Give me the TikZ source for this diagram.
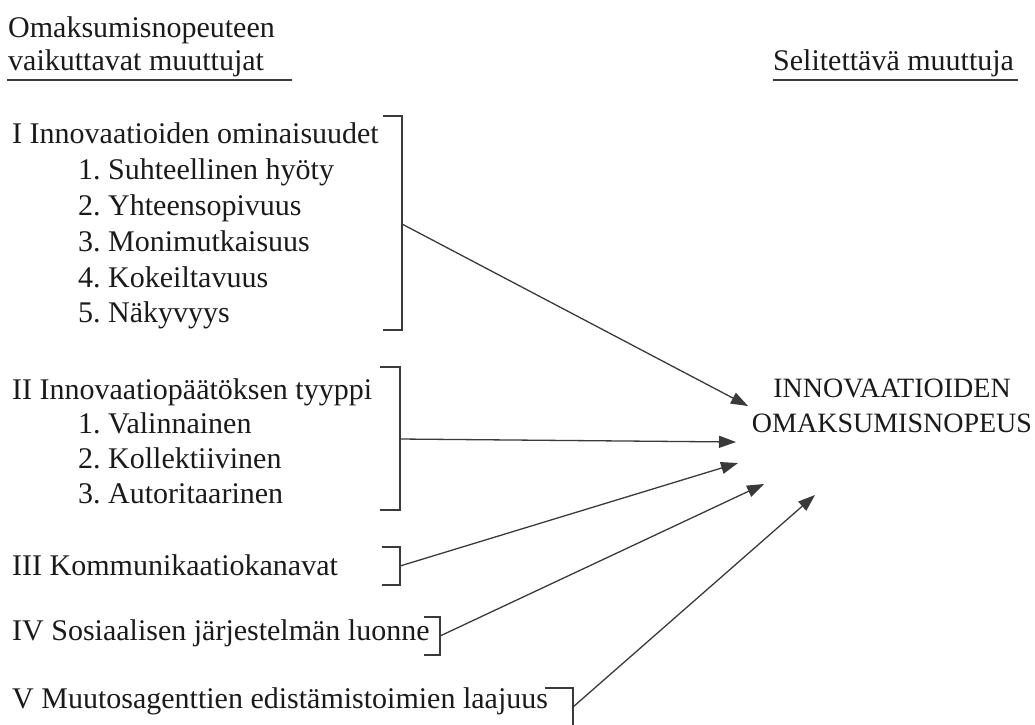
\documentclass[tikz,border=0pt]{standalone}
\usepackage{fontspec}
\setmainfont{Liberation Serif}
\usetikzlibrary{arrows.meta}
\definecolor{ink}{HTML}{1A1A1A}
\definecolor{linec}{HTML}{3A3A3A}
\frenchspacing
\begin{document}
\begin{tikzpicture}[x=1pt,y=-1pt,
  txt/.style={anchor=base west,inner sep=0pt,text=ink,font=\fontsize{30}{35}\selectfont},
  brk/.style={draw=linec,line width=1.4pt},
  arr/.style={draw=linec,line width=1.3pt,-{Triangle[length=17pt,width=12pt]}}]
\useasboundingbox (0,0) rectangle (1035,724);
% headings
\node[txt] (h1) at (8,37) {Omaksumisnopeuteen};
\node[txt] (h2) at (8,70) {vaikuttavat muuttujat};
\draw[linec,line width=1.1pt] (7,80) -- (292,80);
\node[txt] (h3) at (773,70) {Selitettävä muuttuja};
\draw[linec,line width=1.1pt] (773,80) -- (1018,80);
% group I
\node[txt] (g1) at (12,143) {I Innovaatioiden ominaisuudet};
\node[txt] (g1a) at (78,179) {1. Suhteellinen hyöty};
\node[txt] (g1b) at (78,215) {2. Yhteensopivuus};
\node[txt] (g1c) at (78,251) {3. Monimutkaisuus};
\node[txt] (g1d) at (78,287) {4. Kokeiltavuus};
\node[txt] (g1e) at (78,322) {5. Näkyvyys};
\draw[brk] (383,116) -- (402,116) -- (402,330) -- (383,330);
\coordinate (b1) at (402,224);
% group II
\node[txt] (g2) at (12,399) {II Innovaatiopäätöksen tyyppi};
\node[txt] (g2a) at (78,433) {1. Valinnainen};
\node[txt] (g2b) at (78,468) {2. Kollektiivinen};
\node[txt] (g2c) at (78,503) {3. Autoritaarinen};
\draw[brk] (380,367) -- (400,367) -- (400,510) -- (380,510);
\coordinate (b2) at (400,439);
% group III
\node[txt] (g3) at (12,575) {III Kommunikaatiokanavat};
\draw[brk] (382,547) -- (400,547) -- (400,585) -- (382,585);
\coordinate (b3) at (400,566);
% group IV
\node[txt] (g4) at (12,640) {IV Sosiaalisen järjestelmän luonne};
\draw[brk] (424,617) -- (440,617) -- (440,655) -- (424,655);
\coordinate (b4) at (440,636);
% group V
\node[txt] (g5) at (12,708) {V Muutosagenttien edistämistoimien laajuus};
\draw[brk] (545,688) -- (573,688) -- (573,726);
\coordinate (b5) at (573,707);
% target
\node[inner sep=0pt,text=ink,align=center,font=\fontsize{28}{35}\selectfont,anchor=base] (tgt) at (892,432) {INNOVAATIOIDEN\\OMAKSUMISNOPEUS};
\coordinate (e1) at (748,406);
\coordinate (e2) at (736,442);
\coordinate (e3) at (738,463);
\coordinate (e4) at (764,484);
\coordinate (e5) at (815,495);
\draw[arr] (b1) -- (e1);
\draw[arr] (b2) -- (e2);
\draw[arr] (b3) -- (e3);
\draw[arr] (b4) -- (e4);
\draw[arr] (b5) -- (e5);
\end{tikzpicture}
\end{document}
